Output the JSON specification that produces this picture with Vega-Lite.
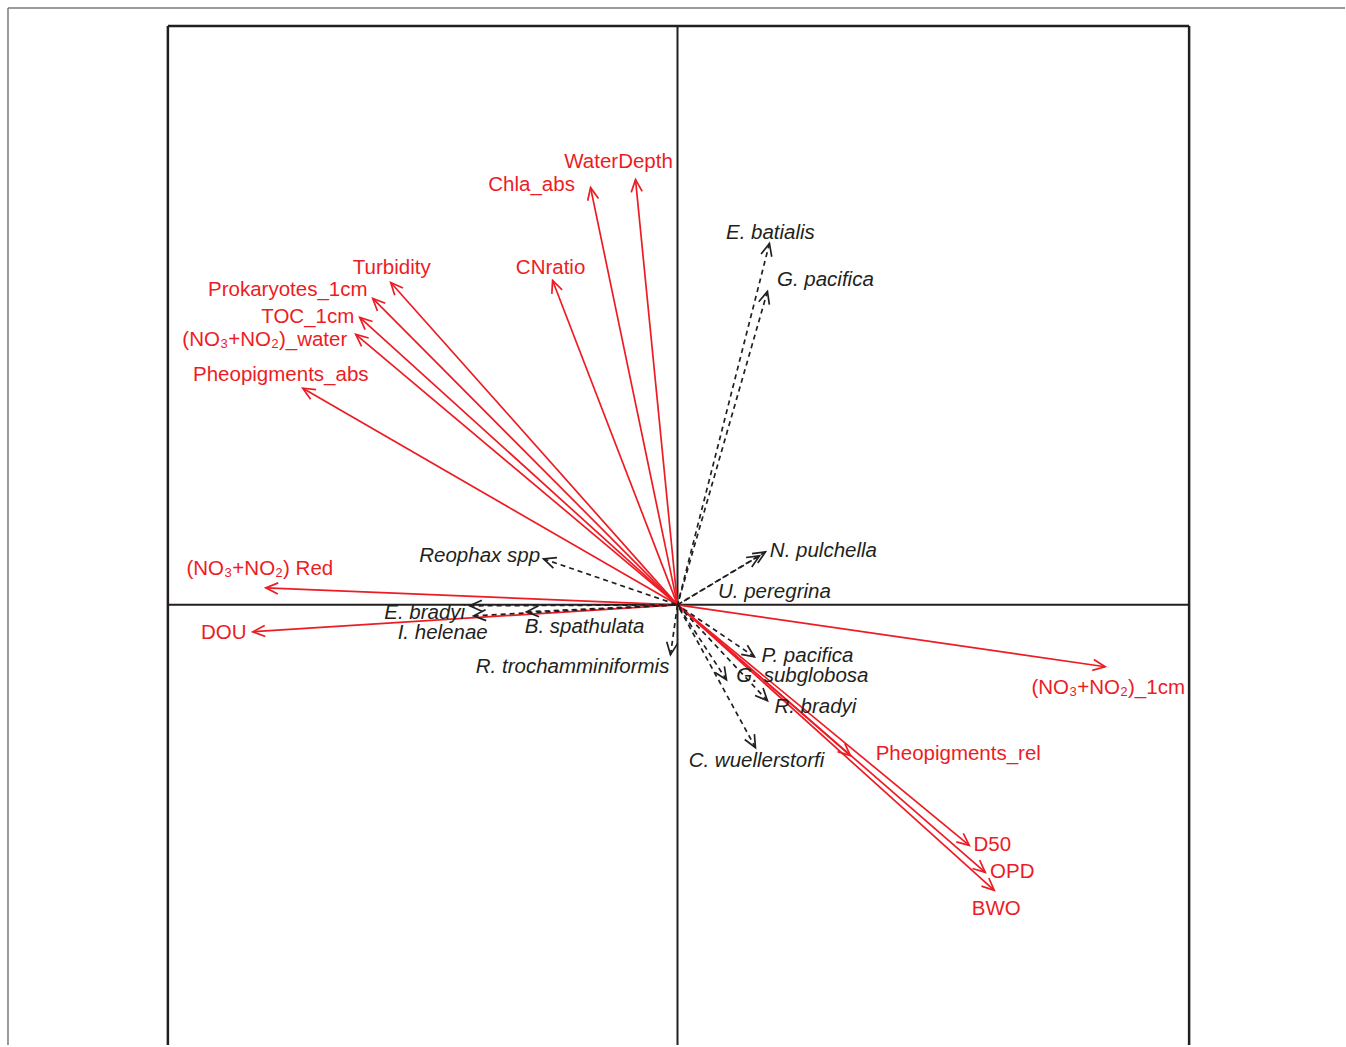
{
  "$schema": "https://vega.github.io/schema/vega-lite/v6.json",
  "width": 1346,
  "height": 1047,
  "autosize": {"type": "fit", "contains": "padding"},
  "padding": 0,
  "background": "white",
  "config": {"view": {"stroke": null}},
  "datasets": {
    "env": [
      {"name": "WaterDepth", "x": -0.105, "y": 1.065, "lx": -0.1475, "ly": 1.11},
      {"name": "Chla_abs", "x": -0.2175, "y": 1.045, "lx": -0.365, "ly": 1.0525},
      {"name": "CNratio", "x": -0.3125, "y": 0.8125, "lx": -0.3175, "ly": 0.8425},
      {"name": "Turbidity", "x": -0.7175, "y": 0.8075, "lx": -0.715, "ly": 0.8425},
      {"name": "Prokaryotes_1cm", "x": -0.7625, "y": 0.7675, "lx": -0.975, "ly": 0.7875},
      {"name": "TOC_1cm", "x": -0.795, "y": 0.72, "lx": -0.925, "ly": 0.72},
      {"name": "(NO₃+NO₂)_water", "x": -0.805, "y": 0.6775, "lx": -1.0325, "ly": 0.6625},
      {"name": "Pheopigments_abs", "x": -0.9375, "y": 0.5425, "lx": -0.9925, "ly": 0.575},
      {"name": "(NO₃+NO₂) Red", "x": -1.03, "y": 0.0425, "lx": -1.045, "ly": 0.09},
      {"name": "DOU", "x": -1.0625, "y": -0.0675, "lx": -1.135, "ly": -0.07},
      {"name": "(NO₃+NO₂)_1cm", "x": 1.07, "y": -0.155, "lx": 1.0775, "ly": -0.2075},
      {"name": "Pheopigments_rel", "x": 0.4325, "y": -0.3775, "lx": 0.7025, "ly": -0.3725},
      {"name": "D50", "x": 0.73, "y": -0.6025, "lx": 0.7875, "ly": -0.6025},
      {"name": "OPD", "x": 0.77, "y": -0.67, "lx": 0.8375, "ly": -0.67},
      {"name": "BWO", "x": 0.7925, "y": -0.715, "lx": 0.7975, "ly": -0.7625}
    ],
    "species": [
      {"name": "E. batialis", "x": 0.23, "y": 0.905, "lx": 0.2325, "ly": 0.9325},
      {"name": "G. pacifica", "x": 0.225, "y": 0.785, "lx": 0.37, "ly": 0.8125},
      {"name": "N. pulchella", "x": 0.22, "y": 0.1325, "lx": 0.365, "ly": 0.135},
      {"name": "U. peregrina", "x": 0.205, "y": 0.1225, "lx": 0.2425, "ly": 0.0325},
      {"name": "Reophax spp", "x": -0.335, "y": 0.115, "lx": -0.495, "ly": 0.1225},
      {"name": "E. bradyi", "x": -0.52, "y": -0.0025, "lx": -0.6325, "ly": -0.02},
      {"name": "I. helenae", "x": -0.51, "y": -0.0275, "lx": -0.5875, "ly": -0.07},
      {"name": "B. spathulata", "x": -0.3775, "y": -0.0175, "lx": -0.2325, "ly": -0.055},
      {"name": "R. trochamminiformis", "x": -0.0175, "y": -0.125, "lx": -0.2625, "ly": -0.155},
      {"name": "P. pacifica", "x": 0.1925, "y": -0.13, "lx": 0.325, "ly": -0.128},
      {"name": "G. subglobosa", "x": 0.1225, "y": -0.1875, "lx": 0.3125, "ly": -0.177},
      {"name": "R. bradyi", "x": 0.225, "y": -0.24, "lx": 0.345, "ly": -0.255},
      {"name": "C. wuellerstorfi", "x": 0.195, "y": -0.3575, "lx": 0.1975, "ly": -0.39}
    ]
  },
  "layer": [
    {
      "data": {"values": [{}]},
      "mark": {"type": "rule", "color": "#7a7a7a", "strokeWidth": 1.5},
      "encoding": {
        "x": {"datum": -1.675, "type": "quantitative", "scale": {"domain": [-1.695, 1.67], "nice": false, "zero": false}, "axis": null},
        "y": {"datum": -1.1025, "type": "quantitative", "scale": {"domain": [-1.1025, 1.515], "nice": false, "zero": false}, "axis": null},
        "y2": {"datum": 1.495}
      }
    },
    {
      "data": {"values": [{}]},
      "mark": {"type": "rule", "color": "#7a7a7a", "strokeWidth": 1.5},
      "encoding": {
        "x": {"datum": -1.675, "type": "quantitative", "scale": {"domain": [-1.695, 1.67], "nice": false, "zero": false}, "axis": null},
        "x2": {"datum": 1.67},
        "y": {"datum": 1.495, "type": "quantitative", "scale": {"domain": [-1.1025, 1.515], "nice": false, "zero": false}, "axis": null}
      }
    },
    {
      "data": {"values": [{}]},
      "mark": {"type": "rule", "color": "#231F20", "strokeWidth": 2.5},
      "encoding": {
        "x": {"datum": -1.275, "type": "quantitative", "scale": {"domain": [-1.695, 1.67], "nice": false, "zero": false}, "axis": null},
        "y": {"datum": -1.1025, "type": "quantitative", "scale": {"domain": [-1.1025, 1.515], "nice": false, "zero": false}, "axis": null},
        "y2": {"datum": 1.45}
      }
    },
    {
      "data": {"values": [{}]},
      "mark": {"type": "rule", "color": "#231F20", "strokeWidth": 2.5},
      "encoding": {
        "x": {"datum": 1.28, "type": "quantitative", "scale": {"domain": [-1.695, 1.67], "nice": false, "zero": false}, "axis": null},
        "y": {"datum": -1.1025, "type": "quantitative", "scale": {"domain": [-1.1025, 1.515], "nice": false, "zero": false}, "axis": null},
        "y2": {"datum": 1.45}
      }
    },
    {
      "data": {"values": [{}]},
      "mark": {"type": "rule", "color": "#231F20", "strokeWidth": 2.5},
      "encoding": {
        "x": {"datum": -1.275, "type": "quantitative", "scale": {"domain": [-1.695, 1.67], "nice": false, "zero": false}, "axis": null},
        "x2": {"datum": 1.28},
        "y": {"datum": 1.45, "type": "quantitative", "scale": {"domain": [-1.1025, 1.515], "nice": false, "zero": false}, "axis": null}
      }
    },
    {
      "data": {"values": [{}]},
      "mark": {"type": "rule", "color": "#231F20", "strokeWidth": 2},
      "encoding": {
        "x": {"datum": 0, "type": "quantitative", "scale": {"domain": [-1.695, 1.67], "nice": false, "zero": false}, "axis": null},
        "y": {"datum": -1.1025, "type": "quantitative", "scale": {"domain": [-1.1025, 1.515], "nice": false, "zero": false}, "axis": null},
        "y2": {"datum": 1.45}
      }
    },
    {
      "data": {"values": [{}]},
      "mark": {"type": "rule", "color": "#231F20", "strokeWidth": 2},
      "encoding": {
        "x": {"datum": -1.275, "type": "quantitative", "scale": {"domain": [-1.695, 1.67], "nice": false, "zero": false}, "axis": null},
        "x2": {"datum": 1.28},
        "y": {"datum": 0, "type": "quantitative", "scale": {"domain": [-1.1025, 1.515], "nice": false, "zero": false}, "axis": null}
      }
    },
    {
      "data": {"name": "env"},
      "mark": {"type": "rule", "color": "#ED1C24", "strokeWidth": 1.7},
      "encoding": {
        "x": {"field": "x", "type": "quantitative", "scale": {"domain": [-1.695, 1.67], "nice": false, "zero": false}, "axis": null},
        "y": {"field": "y", "type": "quantitative", "scale": {"domain": [-1.1025, 1.515], "nice": false, "zero": false}, "axis": null},
        "x2": {"datum": 0},
        "y2": {"datum": 0}
      }
    },
    {
      "data": {"name": "env"},
      "transform": [{"calculate": "atan2(-datum.y, datum.x) * 180 / PI", "as": "heading"}],
      "mark": {"type": "point", "shape": "M -1 -0.45 L 0 0 L -1 0.45", "size": 600, "filled": false, "stroke": "#ED1C24", "strokeWidth": 1.7, "opacity": 1},
      "encoding": {
        "x": {"field": "x", "type": "quantitative", "scale": {"domain": [-1.695, 1.67], "nice": false, "zero": false}, "axis": null},
        "y": {"field": "y", "type": "quantitative", "scale": {"domain": [-1.1025, 1.515], "nice": false, "zero": false}, "axis": null},
        "angle": {"field": "heading", "type": "quantitative", "scale": null}
      }
    },
    {
      "data": {"name": "species"},
      "mark": {"type": "rule", "color": "#231F20", "strokeWidth": 1.7, "strokeDash": [5, 4]},
      "encoding": {
        "x": {"field": "x", "type": "quantitative", "scale": {"domain": [-1.695, 1.67], "nice": false, "zero": false}, "axis": null},
        "y": {"field": "y", "type": "quantitative", "scale": {"domain": [-1.1025, 1.515], "nice": false, "zero": false}, "axis": null},
        "x2": {"datum": 0},
        "y2": {"datum": 0}
      }
    },
    {
      "data": {"name": "species"},
      "transform": [{"calculate": "atan2(-datum.y, datum.x) * 180 / PI", "as": "heading"}],
      "mark": {"type": "point", "shape": "M -1 -0.45 L 0 0 L -1 0.45", "size": 600, "filled": false, "stroke": "#231F20", "strokeWidth": 1.7, "opacity": 1},
      "encoding": {
        "x": {"field": "x", "type": "quantitative", "scale": {"domain": [-1.695, 1.67], "nice": false, "zero": false}, "axis": null},
        "y": {"field": "y", "type": "quantitative", "scale": {"domain": [-1.1025, 1.515], "nice": false, "zero": false}, "axis": null},
        "angle": {"field": "heading", "type": "quantitative", "scale": null}
      }
    },
    {
      "data": {"name": "env"},
      "mark": {"type": "text", "font": "Liberation Sans", "fontSize": 20.5, "color": "#ED1C24", "align": "center", "baseline": "middle"},
      "encoding": {
        "x": {"field": "lx", "type": "quantitative", "scale": {"domain": [-1.695, 1.67], "nice": false, "zero": false}, "axis": null},
        "y": {"field": "ly", "type": "quantitative", "scale": {"domain": [-1.1025, 1.515], "nice": false, "zero": false}, "axis": null},
        "text": {"field": "name"}
      }
    },
    {
      "data": {"name": "species"},
      "mark": {"type": "text", "font": "Liberation Sans", "fontSize": 20.5, "fontStyle": "italic", "color": "#231F20", "align": "center", "baseline": "middle"},
      "encoding": {
        "x": {"field": "lx", "type": "quantitative", "scale": {"domain": [-1.695, 1.67], "nice": false, "zero": false}, "axis": null},
        "y": {"field": "ly", "type": "quantitative", "scale": {"domain": [-1.1025, 1.515], "nice": false, "zero": false}, "axis": null},
        "text": {"field": "name"}
      }
    }
  ]
}
